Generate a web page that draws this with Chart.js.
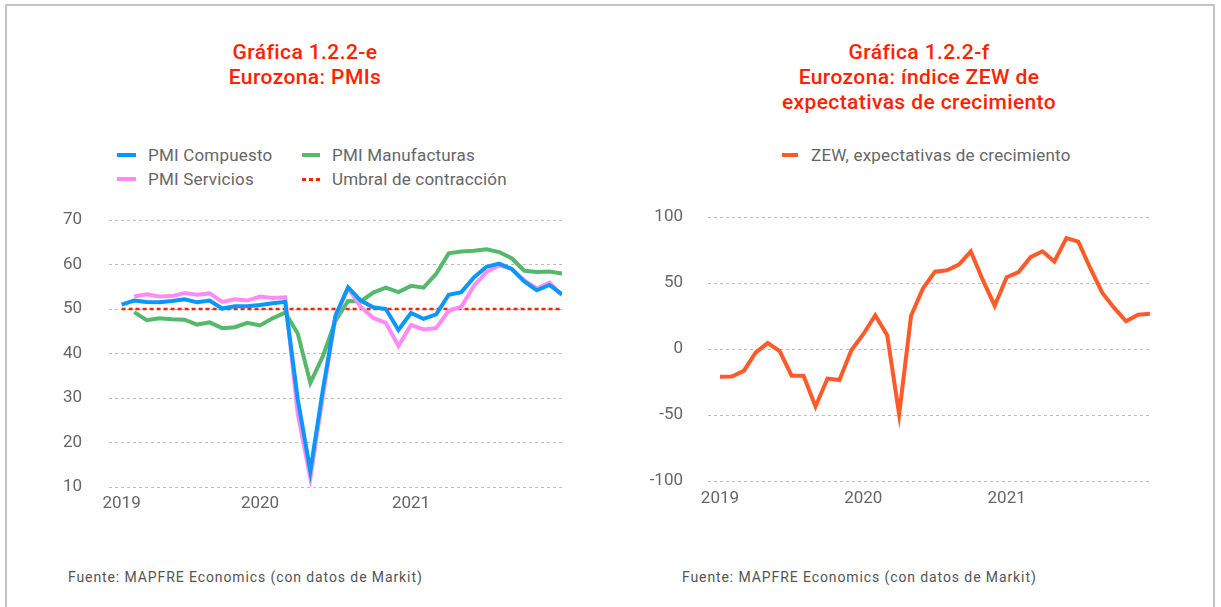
<!DOCTYPE html>
<html><head><meta charset="utf-8">
<script src="https://cdn.jsdelivr.net/npm/chart.js@4.4.1/dist/chart.umd.min.js"></script>
<style>
html,body{margin:0;padding:0;background:#fff;}
body{width:1221px;height:607px;position:relative;overflow:hidden;font-family:Roboto,"DejaVu Sans",sans-serif;}
#frame{position:absolute;left:5px;top:4px;width:1206px;height:640px;border:2px solid #c3c3c3;border-bottom:none;}
.title{position:absolute;color:#ff2200;font-weight:500;font-size:21px;letter-spacing:0.4px;line-height:25px;text-align:center;white-space:nowrap;}
.leg{position:absolute;font-size:17px;letter-spacing:0.2px;line-height:20px;color:#666;white-space:nowrap;}
.sw{position:absolute;height:4px;}
.foot{position:absolute;font-size:14px;line-height:16px;color:#555;white-space:nowrap;letter-spacing:0.9px;}
canvas{position:absolute;}
</style></head>
<body>
<div id="frame"></div>
<div class="title" style="left:155px;top:40px;width:300px">Gráfica 1.2.2-e<br>Eurozona: PMIs</div>
<div class="title" style="left:769px;top:40px;width:300px">Gráfica 1.2.2-f<br>Eurozona: índice ZEW de<br>expectativas de crecimiento</div>
<div id="legends"></div>
<canvas id="c1" width="540" height="320" style="left:40px;top:200px"></canvas>
<canvas id="c2" width="560" height="320" style="left:620px;top:200px"></canvas>
<div class="foot" style="left:68px;top:569px">Fuente: MAPFRE Economics (con datos de Markit)</div>
<div class="foot" style="left:682px;top:569px">Fuente: MAPFRE Economics (con datos de Markit)</div>
<script>
// ---- Data ----
const pmiCategories = ['2019-01','2019-02','2019-03','2019-04','2019-05','2019-06','2019-07','2019-08','2019-09','2019-10','2019-11','2019-12',
  '2020-01','2020-02','2020-03','2020-04','2020-05','2020-06','2020-07','2020-08','2020-09','2020-10','2020-11','2020-12',
  '2021-01','2021-02','2021-03','2021-04','2021-05','2021-06','2021-07','2021-08','2021-09','2021-10','2021-11','2021-12'];
const pmiCompuesto = [51.0,51.9,51.6,51.5,51.8,52.2,51.5,51.9,50.1,50.6,50.6,50.9,
  51.3,51.6,29.7,13.6,31.9,48.5,54.9,51.9,50.4,50.0,45.3,49.1,
  47.8,48.8,53.2,53.8,57.1,59.5,60.2,59.0,56.2,54.2,55.4,53.3];
const pmiServicios = [null,52.8,53.3,52.8,52.9,53.6,53.2,53.5,51.6,52.2,51.9,52.8,
  52.5,52.6,26.4,12.0,30.5,48.3,54.7,50.5,48.0,46.9,41.7,46.4,
  45.4,45.7,49.6,50.5,55.2,58.3,59.8,59.0,56.4,54.6,55.9,53.1];
const pmiManufacturas = [null,49.3,47.5,47.9,47.7,47.6,46.5,47.0,45.7,45.9,46.9,46.3,
  47.9,49.2,44.5,33.4,39.4,47.4,51.8,51.7,53.7,54.8,53.8,55.2,
  54.8,57.9,62.5,62.9,63.1,63.4,62.8,61.4,58.6,58.3,58.4,58.0];
const umbralContraccion = [50,50,50,50,50,50,50,50,50,50,50,50,50,50,50,50,50,50,
  50,50,50,50,50,50,50,50,50,50,50,50,50,50,50,50,50,50];
const pmiTickIndex = [0, 11, 23];
const pmiTickLabels = ['2019','2020','2021'];
const pmiYTicks = [10,20,30,40,50,60,70];

const zewCategories = ['2018-12','2019-01','2019-02','2019-03','2019-04','2019-05','2019-06','2019-07','2019-08','2019-09','2019-10','2019-11','2019-12',
  '2020-01','2020-02','2020-03','2020-04','2020-05','2020-06','2020-07','2020-08','2020-09','2020-10','2020-11','2020-12',
  '2021-01','2021-02','2021-03','2021-04','2021-05','2021-06','2021-07','2021-08','2021-09','2021-10','2021-11','2021-12'];
const zewExpectativas = [-21.0,-20.9,-16.6,-2.5,4.5,-1.6,-20.2,-20.3,-43.6,-22.4,-23.5,-1.0,11.2,
  25.6,10.4,-49.5,25.2,46.0,58.6,59.6,64.0,73.9,52.3,32.8,54.4,
  58.3,69.6,74.0,66.3,84.0,81.3,61.2,42.7,31.1,21.0,25.9,26.8];
const zewTickIndex = [0, 12, 24];
const zewTickLabels = ['2019','2020','2021'];
const zewYTicks = [-100,-50,0,50,100];

// ---- Styles ----
const C_BLUE = '#0a97fb', C_PINK = '#ff8cf4', C_GREEN = '#55b96c', C_RED = '#ff2200', C_ORANGE = '#ff5a2a';
const GRID = '#bdbdbd', TXT = '#666666';

// ---- Legends (HTML) ----
const legendItems = [
  {name:'PMI Compuesto', color:C_BLUE, x:117, w:19, tx:148, base:160.5},
  {name:'PMI Servicios', color:C_PINK, x:117, w:19, tx:148, base:184.5},
  {name:'PMI Manufacturas', color:C_GREEN, x:302, w:18, tx:332, base:160.5},
  {name:'Umbral de contracción', color:C_RED, x:302, w:18, tx:332, base:184.5, dashed:true},
  {name:'ZEW, expectativas de crecimiento', color:C_ORANGE, x:782, w:16, tx:811, base:160.5}
];
const lg = document.getElementById('legends');
legendItems.forEach(it => {
  const sw = document.createElement('div');
  sw.className = 'sw';
  sw.style.left = it.x + 'px'; sw.style.width = it.w + 'px';
  if (it.dashed) {
    sw.style.top = (it.base - 7) + 'px'; sw.style.height = '3px';
    sw.style.background = `repeating-linear-gradient(to right, ${it.color} 0 4px, transparent 4px 7px)`;
  } else {
    sw.style.top = (it.base - 8) + 'px';
    sw.style.background = it.color;
  }
  lg.appendChild(sw);
  const t = document.createElement('div');
  t.className = 'leg';
  t.style.left = it.tx + 'px'; t.style.top = (it.base - 15.8) + 'px';
  t.textContent = it.name;
  lg.appendChild(t);
});

Chart.defaults.font.family = 'Roboto';
Chart.defaults.color = TXT;

const toXY = arr => arr.map((v, i) => ({x: i, y: v}));
const line = (label, data, color, extra) => Object.assign({
  label, data: toXY(data), borderColor: color, backgroundColor: color,
  borderWidth: 4, pointRadius: 0, tension: 0, fill: false, spanGaps: false
}, extra || {});

function mkOpts(cfg) {
  return {
    responsive: false, maintainAspectRatio: false, animation: false, devicePixelRatio: 1,
    layout: {padding: {top: cfg.padTop, right: cfg.padRight, left: 0, bottom: 0}},
    plugins: {legend: {display: false}, tooltip: {enabled: false}},
    scales: {
      x: {
        type: 'linear', min: -1, max: cfg.xMax,
        grid: {display: false, drawTicks: false},
        border: {display: false},
        afterBuildTicks: s => { s.ticks = cfg.tickIndex.map(v => ({value: v})); },
        ticks: {autoSkip: false, maxRotation: 0, padding: cfg.xPad, color: TXT, font: {size: 17},
          callback: v => { const k = cfg.tickIndex.indexOf(v); return k >= 0 ? cfg.tickLabels[k] : ''; }},
        afterFit: s => { s.height = cfg.xH; }
      },
      y: {
        min: cfg.yTicks[0], max: cfg.yTicks[cfg.yTicks.length - 1],
        afterBuildTicks: s => { s.ticks = cfg.yTicks.map(v => ({value: v})); },
        ticks: {padding: 0, color: TXT, font: {size: 17}},
        grid: {color: GRID, lineWidth: 1, drawTicks: true, tickLength: cfg.yGap, tickColor: 'rgba(0,0,0,0)'},
        border: {display: false, dash: [3, 3]},
        afterFit: s => { s.width = cfg.yW; }
      }
    }
  };
}

new Chart(document.getElementById('c1'), {
  type: 'line',
  data: {
    datasets: [
      line('PMI Compuesto', pmiCompuesto, C_BLUE),
      line('PMI Servicios', pmiServicios, C_PINK),
      line('PMI Manufacturas', pmiManufacturas, C_GREEN),
      line('Umbral de contracción', umbralContraccion, C_RED, {borderWidth: 2.5, borderDash: [4, 3]})
    ]
  },
  options: mkOpts({padTop: 20, padRight: 18, xMax: pmiCategories.length - 1, tickIndex: pmiTickIndex,
    tickLabels: pmiTickLabels, xPad: 7, xH: 33, yTicks: pmiYTicks, yGap: 27, yW: 69})
});

new Chart(document.getElementById('c2'), {
  type: 'line',
  data: {
    datasets: [ line('ZEW, expectativas de crecimiento', zewExpectativas, C_ORANGE) ]
  },
  options: mkOpts({padTop: 17, padRight: 30, xMax: zewCategories.length - 1, tickIndex: zewTickIndex,
    tickLabels: zewTickLabels, xPad: 8, xH: 39, yTicks: zewYTicks, yGap: 25, yW: 88})
});
</script>
</body></html>
